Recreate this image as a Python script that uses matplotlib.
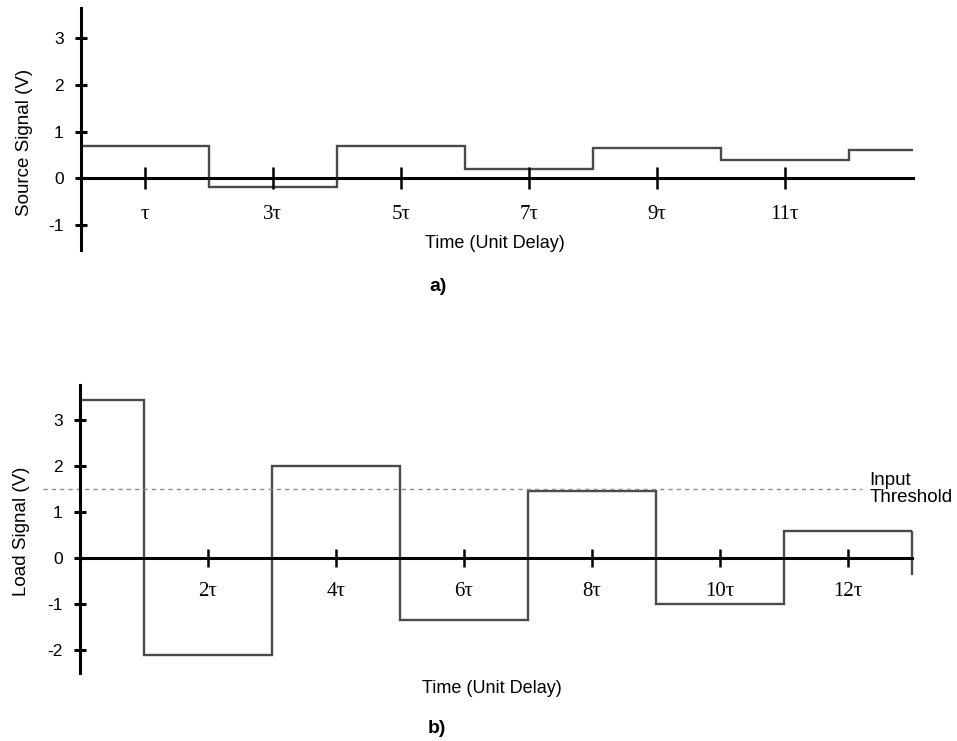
import matplotlib
matplotlib.use("Agg")
import matplotlib.pyplot as plt

# panel a) source signal, one level per interval of tau
source_edges = [0, 2, 4, 6, 8, 10, 12, 13]
source_values = [0.7, -0.18, 0.7, 0.2, 0.65, 0.4, 0.6]
source_xticks = [1, 3, 5, 7, 9, 11]
source_xlabels = ["τ", "3τ", "5τ", "7τ", "9τ", "11τ"]
source_yticks = [-1, 0, 1, 2, 3]

# panel b) load signal
load_edges = [0, 1, 3, 5, 7, 9, 11, 13]
load_values = [3.45, -2.1, 2.0, -1.35, 1.45, -1.0, 0.58]
load_tail = -0.37  # where the last drop at 13 tau is cut off
load_xticks = [2, 4, 6, 8, 10, 12]
load_xlabels = ["2τ", "4τ", "6τ", "8τ", "10τ", "12τ"]
load_yticks = [-2, -1, 0, 1, 2, 3]
threshold = 1.5

sans = "Liberation Sans"
serif = "Liberation Serif"
sig_color = "#4a4a4a"


def style_axes(ax, xticks, xlabels, yticks, xlen):
    """Cross-style axes: spines through zero, no box."""
    for side in ["top", "right"]:
        ax.spines[side].set_visible(False)
    ax.spines["left"].set_position(("data", 0))
    ax.spines["bottom"].set_position(("data", 0))
    ax.spines["left"].set_linewidth(2.2)
    ax.spines["bottom"].set_linewidth(2.2)
    ax.set_xticks(xticks)
    ax.set_xticklabels(xlabels, family=serif, fontsize=15)
    ax.set_yticks(yticks)
    ax.set_yticklabels([str(v) for v in yticks], family=sans, fontsize=12.5)
    ax.tick_params(axis="x", direction="inout", length=xlen, width=1.8, pad=11)
    ax.tick_params(axis="y", direction="inout", length=9, width=2.2, pad=8)


fig = plt.figure(figsize=(9.57, 7.41), dpi=100)

# a) source signal
ax1 = fig.add_axes([0.0846, 0.663, 0.869, 0.326])
ax1.stairs(source_values, source_edges, baseline=None, color=sig_color, linewidth=1.7)
ax1.set_xlim(0, 13)
ax1.set_ylim(-1.53, 3.65)
style_axes(ax1, source_xticks, source_xlabels, source_yticks, 16)
ax1.set_ylabel("Source Signal (V)", family=sans, fontsize=13.5)
ax1.yaxis.set_label_coords(-0.058, 0.446)
fig.text(0.517, 0.672, "Time (Unit Delay)", family=sans, fontsize=13,
         ha="center", va="center")
fig.text(0.458, 0.613, "a)", family=sans, fontsize=14, fontweight="bold",
         ha="center", va="center")

# b) load signal
ax2 = fig.add_axes([0.0836, 0.0918, 0.869, 0.3882])
ax2.stairs(load_values, load_edges, baseline=None, color=sig_color, linewidth=1.7)
ax2.vlines(load_edges[-1], load_tail, load_values[-1], color=sig_color, linewidth=1.7,
           clip_on=False)
ax2.axhline(threshold, xmin=-0.045, xmax=0.94, color="#8a8a8a", linewidth=1,
            linestyle=(0, (3, 3)), clip_on=False)
ax2.text(12.34, threshold, "Input\nThreshold", family=sans, fontsize=13.5,
         ha="left", va="center", linespacing=1.0)
ax2.set_xlim(0, 13)
ax2.set_ylim(-2.5, 3.76)
style_axes(ax2, load_xticks, load_xlabels, load_yticks, 13)
ax2.set_ylabel("Load Signal (V)", family=sans, fontsize=13.5)
ax2.yaxis.set_label_coords(-0.060, 0.493)
fig.text(0.514, 0.0715, "Time (Unit Delay)", family=sans, fontsize=13,
         ha="center", va="center")
fig.text(0.457, 0.0175, "b)", family=sans, fontsize=14, fontweight="bold",
         ha="center", va="center")

fig.savefig("out.png", dpi=100)
